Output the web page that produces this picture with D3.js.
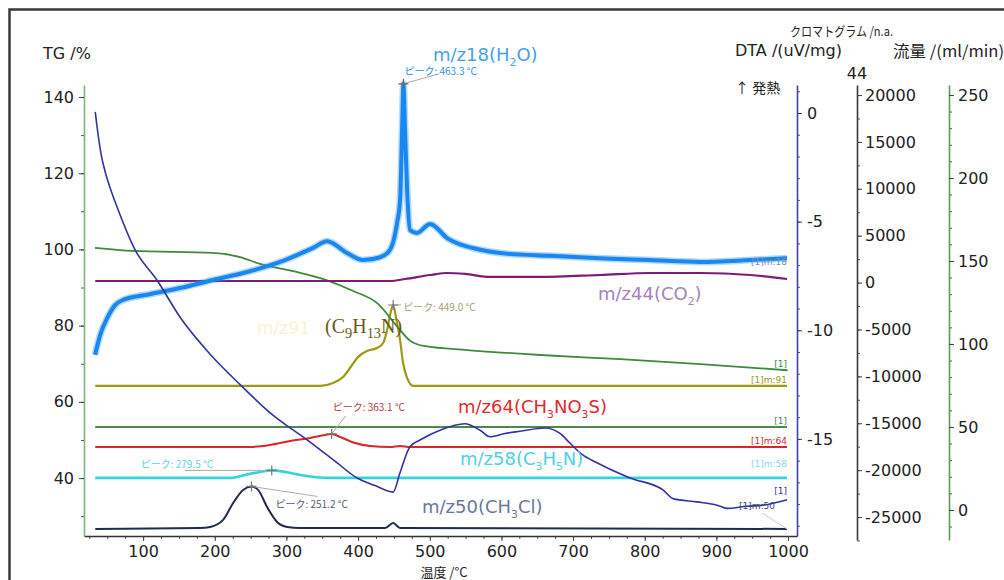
<!DOCTYPE html>
<html>
<head>
<meta charset="utf-8">
<script src="https://cdn.jsdelivr.net/npm/d3@7"></script>
<style>
  body { margin: 0; background: #fff; }
  svg { display: block; }
</style>
</head>
<body>
<svg id="chart" width="1004" height="580"></svg>
<script>
// ---- Measured curves: [temperature °C, value on the curve's own axis] ----
// TG (%)
const tgCurve = [[32.8,100.4],[85.9,99.6],[197.6,99.1],[235.3,98.0],[263.3,96.2],[309.4,94.3],[356.8,91.9],[393.2,89.1],[426.7,85.9],[458.8,78.8],[472.8,76.0],[493.7,74.6],[552.4,73.6],[654.3,72.3],[766.1,71.2],[877.8,69.9],[999.3,68.3]];
// DTA (uV/mg)
const dtaCurve = [[33.2,0.05],[37.2,-1.0],[41.4,-1.9],[47.0,-2.7],[54.0,-3.45],[65.1,-4.45],[88.8,-6.3],[119.5,-7.7],[151.6,-9.4],[193.5,-11.1],[235.4,-12.5],[277.3,-13.8],[328.9,-15.05],[365.1,-15.95],[398.6,-16.8],[423.7,-17.15],[448.8,-17.45],[458.6,-16.55],[472.5,-15.35],[486.4,-15.05],[514.3,-14.6],[549.2,-14.3],[570.2,-14.6],[584.1,-14.9],[605.0,-14.75],[626.0,-14.65],[660.9,-14.5],[681.8,-14.75],[695.8,-15.2],[712.0,-15.7],[733.4,-16.1],[779.5,-16.8],[825.5,-17.35],[839.5,-17.75],[873.0,-17.9],[900.9,-18.05],[914.8,-18.2],[942.7,-18.1],[965.1,-18.05],[998.6,-17.8]];
// Ion chromatograms (n.a.)
const ms18 = [[33.0,-7700],[40.0,-5600],[49.8,-3800],[60.9,-2400],[72.1,-1850],[105.6,-1300],[151.6,-580],[197.7,280],[245.1,1130],[291.2,2200],[337.3,3700],[356.8,4400],[384.6,3150],[407.0,2400],[430.7,2700],[444.6,3500],[454.4,6350],[458.6,8800],[461.4,16300],[463.3,21200],[465.5,16300],[468.4,9900],[472.5,5600],[482.3,5300],[500.4,6250],[524.2,4750],[570.3,3500],[598.2,3150],[668.0,2850],[737.6,2600],[807.4,2400],[877.2,2200],[946.9,2400],[998.6,2600]];
const ms44 = [[33.2,170],[179.5,170],[319.0,170],[444.6,170],[465.6,380],[500.4,810],[524.2,1020],[549.3,920],[584.2,600],[654.0,600],[737.7,810],[807.4,1020],[877.2,1020],[947.0,810],[998.6,380]];
const ms91 = [[33.2,-11020],[346.9,-11020],[365.0,-10700],[379.0,-10070],[391.6,-8790],[398.6,-8040],[412.5,-7290],[426.5,-6970],[434.9,-6440],[440.5,-5050],[444.6,-3450],[449.0,-2390],[453.0,-3780],[458.6,-6120],[462.8,-8570],[468.4,-10170],[476.8,-11020],[998.6,-11020]];
const ms64 = [[33.2,-17530],[249.4,-17530],[277.3,-17320],[305.2,-16890],[333.1,-16570],[354.0,-16250],[363.1,-16140],[374.9,-16460],[395.8,-17100],[416.7,-17420],[444.6,-17530],[458.6,-17420],[472.5,-17530],[998.6,-17530]];
const ms58 = [[33.2,-20830],[221.5,-20830],[242.3,-20510],[263.2,-20190],[279.5,-20030],[298.2,-20190],[319.1,-20510],[361.0,-20830],[998.6,-20830]];
const ms50 = [[33.2,-26270],[179.5,-26170],[193.5,-26060],[211.6,-25310],[225.6,-23500],[239.5,-22110],[251.2,-21740],[260.5,-22110],[273.0,-23930],[287.0,-25530],[301.0,-26060],[319.0,-26170],[437.7,-26170],[449.0,-25630],[458.6,-26170],[998.6,-26270]];
// Purge gas flow (ml/min)
const flowCurve = [[33.2,50],[998.6,50]];

// Peak temperatures (°C) marked on the ion curves
const peakMs18 = 463.3, peakMs91 = 449.0, peakMs64 = 363.1, peakMs58 = 279.5, peakMs50 = 251.2;

// Tick values
const tempTicks = [100,200,300,400,500,600,700,800,900,1000];
const tgTicks = [40,60,80,100,120,140];
const dtaTicks = [0,-5,-10,-15];
const chromTicks = [20000,15000,10000,5000,0,-5000,-10000,-15000,-20000,-25000];
const flowTicks = [0,50,100,150,200,250];

// ---- Scales ----
const svg = d3.select("#chart");
const x = d3.scaleLinear().domain([17.5, 1012.5]).range([84, 797]);
const yTG = d3.scaleLinear().domain([24.8, 143.15]).range([536, 85]);
const yDTA = d3.scaleLinear().domain([-19.47, 1.29]).range([536, 85]);
const yMS = d3.scaleLinear().domain([-27450, 21070]).range([540, 85]);
const yFlow = d3.scaleLinear().domain([-18.1, 256]).range([540, 85]);

const SANS = "'DejaVu Sans', 'Liberation Sans', sans-serif";
const JP = "'Noto Sans CJK JP', 'DejaVu Sans', sans-serif";

// outer frame
svg.append("rect").attr("x", 9.5).attr("y", 9.5).attr("width", 1010).attr("height", 600)
  .attr("fill", "none").attr("stroke", "#3a3a3a").attr("stroke-width", 2.5);

// ---- Axes ----
function styleAxis(g, lineColor) {
  g.select(".domain").attr("stroke", lineColor).attr("stroke-width", 1.6);
  g.selectAll(".tick line").attr("stroke", "#444");
  g.selectAll(".tick text").attr("font-family", SANS).attr("font-size", 16).attr("fill", "#222");
}
function minor(g, axisFn, values, size) {
  g.append("g").call(axisFn.tickValues(values).tickSize(size).tickFormat(""))
    .call(s => s.select(".domain").remove())
    .selectAll("line").attr("stroke", "#555");
}
const fmt = d => String(d);

// temperature axis
const gx = svg.append("g").attr("transform", "translate(0,536)");
minor(gx, d3.axisBottom(x), d3.range(25, 1001, 25), 3);
gx.append("g").call(d3.axisBottom(x).tickValues(tempTicks).tickSize(5).tickSizeOuter(0).tickPadding(5).tickFormat(fmt))
  .call(g => styleAxis(g, "#333"));

// TG axis
const gTG = svg.append("g").attr("transform", "translate(84,0)");
minor(gTG, d3.axisLeft(yTG), d3.range(30, 141, 10), 3);
gTG.append("g").call(d3.axisLeft(yTG).tickValues(tgTicks).tickSize(5).tickSizeOuter(0).tickPadding(5).tickFormat(fmt))
  .call(g => styleAxis(g, "#7fb27f"));

// DTA axis
const gD = svg.append("g").attr("transform", "translate(797,0)");
minor(gD, d3.axisRight(yDTA), d3.range(-19, 2, 1), 3);
gD.append("g").call(d3.axisRight(yDTA).tickValues(dtaTicks).tickSize(5).tickSizeOuter(0).tickPadding(5).tickFormat(fmt))
  .call(g => styleAxis(g, "#4040b0"));

// chromatogram axis
const gC = svg.append("g").attr("transform", "translate(857,0)");
minor(gC, d3.axisRight(yMS), d3.range(-27500, 21000, 2500), 3);
gC.append("g").call(d3.axisRight(yMS).tickValues(chromTicks).tickSize(5).tickSizeOuter(0).tickPadding(3).tickFormat(fmt))
  .call(g => styleAxis(g, "#3a3a3a"));

// flow axis
const gF = svg.append("g").attr("transform", "translate(949,0)");
minor(gF, d3.axisRight(yFlow), d3.range(-10, 256, 10), 3);
gF.append("g").call(d3.axisRight(yFlow).tickValues(flowTicks).tickSize(5).tickSizeOuter(0).tickPadding(4).tickFormat(fmt))
  .call(g => styleAxis(g, "#5a9a5a"));

// axis titles
function txt(xp, yp, s, size, fam, fill, anchor) {
  return svg.append("text").attr("x", xp).attr("y", yp).text(s)
    .attr("font-size", size).attr("font-family", fam).attr("fill", fill || "#222")
    .attr("text-anchor", anchor || "start");
}
txt(43, 59, "TG /%", 16, SANS);
txt(790, 36, "クロマトグラム /n.a.", 13, JP).attr("textLength", 103).attr("lengthAdjust", "spacingAndGlyphs");
txt(735, 56, "DTA /(uV/mg)", 16, SANS);
txt(893, 57, "流量 /(ml/min)", 16, JP).attr("textLength", 111).attr("lengthAdjust", "spacingAndGlyphs");
txt(857, 79, "44", 16, SANS, "#222", "middle");
txt(735, 93, "↑ 発熱", 14, JP);
txt(444, 576.5, "温度 /°C", 13, JP, "#222", "middle");

// ---- Curves ----
const line = ys => d3.line().x(d => x(d[0])).y(d => ys(d[1])).curve(d3.curveMonotoneX);
function draw(data, ys, color, w, op) {
  svg.append("path").datum(data).attr("d", line(ys)).attr("fill", "none")
    .attr("stroke", color).attr("stroke-width", w).attr("stroke-opacity", op || 1)
    .attr("stroke-linejoin", "round");
}
draw(ms50, yMS, "#1f2d4d", 2);
draw(ms58, yMS, "#35d3e0", 2.6);
draw(ms64, yMS, "#d8262a", 2);
draw(flowCurve, yFlow, "#4b8a4b", 2);
draw(ms91, yMS, "#9c9a14", 2.2);
draw(tgCurve, yTG, "#3f8a3a", 1.8);
draw(ms44, yMS, "#7c1c7a", 2.2);
draw(ms18, yMS, "#2d92f0", 7, 0.35);
draw(ms18, yMS, "#1888f0", 4);
draw(dtaCurve, yDTA, "#3232a2", 1.6);

// ---- Peak markers and labels ----
const valueAt = (data, t) => data.find(d => d[0] === t)[1];
function peak(data, t, color, textColor, lx, ly, leader) {
  const px = x(t), py = yMS(valueAt(data, t));
  if (leader) {
    svg.append("line").attr("x1", px).attr("y1", py).attr("x2", px + leader[0]).attr("y2", py + leader[1])
      .attr("stroke", "#aaa").attr("stroke-width", 1);
  }
  svg.append("path").attr("d", `M${px - 5},${py}H${px + 5}M${px},${py - 5}V${py + 5}`)
    .attr("stroke", color).attr("stroke-width", 1.2);
  txt(px + lx, py + ly, `ピーク: ${t.toFixed(1)} °C`, 10, JP, textColor);
}
peak(ms18, peakMs18, "#666", "#3a8fd0", 1, -9, [36, -10]);
peak(ms91, peakMs91, "#777", "#a8a070", 10, 6, [8, 0]);
peak(ms64, peakMs64, "#777", "#b04040", 1, -23, [14, -18]);
peak(ms58, peakMs58, "#777", "#5fd2e0", -131, -2, [-87, 0]);
peak(ms50, peakMs50, "#777", "#555c70", 24, 22, [66, 10]);

// ---- Ion labels with subscripts ----
function chem(xp, yp, parts, size, fam, fill, subScale) {
  const k = subScale || 0.6;
  const t = svg.append("text").attr("x", xp).attr("y", yp).attr("font-size", size)
    .attr("font-family", fam).attr("fill", fill);
  parts.forEach((p, i) => {
    const sub = Array.isArray(p);
    const s = t.append("tspan").text(sub ? p[0] : p);
    if (sub) s.attr("font-size", size * k).attr("dy", size * 0.25);
    else if (i > 0 && Array.isArray(parts[i - 1])) s.attr("dy", -size * 0.25);
  });
  return t;
}
chem(433, 61, ["m/z18(H", ["2"], "O)"], 18, SANS, "#46a3e6");
chem(598, 300, ["m/z44(CO", ["2"], ")"], 18, SANS, "#a384bd");
txt(257, 334, "m/z91", 17, SANS, "#f8f3d0");
chem(325, 333, ["(C", ["9"], "H", ["13"], "N)"], 20, "'Liberation Serif', serif", "#6b5b14", 0.72);
chem(458, 413, ["m/z64(CH", ["3"], "NO", ["3"], "S)"], 18, SANS, "#e02a2e");
chem(460, 465, ["m/z58(C", ["3"], "H", ["5"], "N)"], 18, SANS, "#4fcfe6");
chem(422, 513, ["m/z50(CH", ["3"], "Cl)"], 18, SANS, "#6a7898");

// ---- End-of-curve tags ----
function tag(data, ys, s, color, dyOff, xEnd) {
  const last = data[data.length - 1];
  return txt(xEnd || 787, ys(last[1]) + dyOff, s, 9, SANS, color, "end");
}
tag(ms18, yMS, "[1]m:18", "#7a90b0", 7);
tag(tgCurve, yTG, "[1]", "#3f8a3a", -3);
tag(ms91, yMS, "[1]m:91", "#9c9a14", -3);
tag(flowCurve, yFlow, "[1]", "#4b8a4b", -3);
tag(ms64, yMS, "[1]m:64", "#d8262a", -3);
tag(ms58, yMS, "[1]m:58", "#7fdde8", -11);
tag(dtaCurve, yDTA, "[1]", "#3232a2", -6);
tag(ms50, yMS, "[1]m:50", "#3a4a70", -20, 775);
svg.append("line").attr("x1", 762).attr("y1", yMS(ms50[ms50.length - 1][1]) - 16)
  .attr("x2", 787).attr("y2", yMS(ms50[ms50.length - 1][1]))
  .attr("stroke", "#c8ccd8").attr("stroke-width", 1);
</script>
</body>
</html>
